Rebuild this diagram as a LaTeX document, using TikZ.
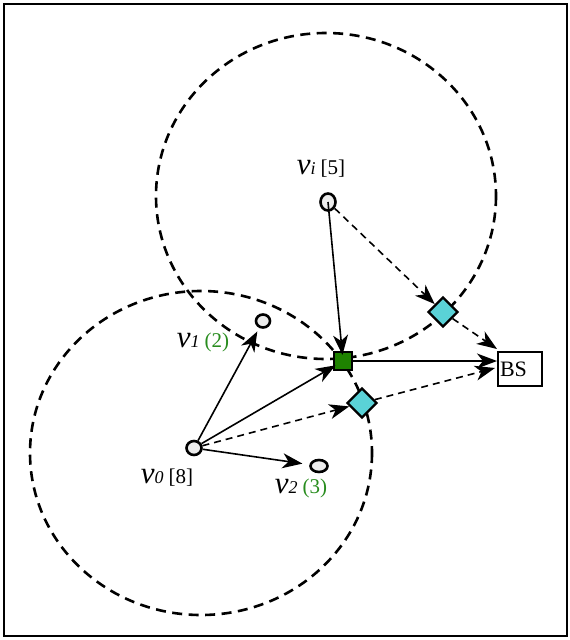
\documentclass[tikz,border=0pt]{standalone}
\usepackage{fontspec}
\setmainfont{Liberation Serif}
\usetikzlibrary{arrows.meta,shapes.geometric}
\definecolor{lblgreen}{RGB}{40,140,30}
\definecolor{sqgreen}{RGB}{30,130,0}
\definecolor{diacyan}{RGB}{90,210,215}
\definecolor{nodefill}{RGB}{236,236,236}
\newcommand{\vlab}[3]{{\fontsize{31}{31}\selectfont\itshape v}{\fontsize{18}{18}\selectfont\itshape #1}\hspace{5pt}{\fontsize{21}{21}\selectfont\color{#3}#2}}
\begin{document}
\begin{tikzpicture}[x=1pt,y=-1pt,
  sensor/.style={ellipse,draw,line width=2.6pt,fill=nodefill,inner sep=0pt},
  relay/.style={diamond,draw,line width=2.4pt,fill=diacyan,inner sep=0pt,minimum width=30pt,minimum height=30pt},
  head/.style={rectangle,draw,line width=2pt,fill=sqgreen,inner sep=0pt,minimum size=18pt},
  sink/.style={rectangle,draw,line width=2pt,fill=white,inner xsep=2pt,inner ysep=0pt,text width=40pt,align=left,minimum height=34pt,font=\fontsize{22}{22}\selectfont},
  rangecirc/.style={dash pattern=on 10pt off 6.5pt,line width=2.6pt},
  lbl/.style={anchor=base,inner sep=0pt},
  arr/.style={line width=1.6pt,-{Stealth[length=20pt,width=15pt,inset=6pt]}},
  darr/.style={arr,dash pattern=on 7pt off 5pt}
]
\useasboundingbox (0,0) rectangle (570,640);
\draw[line width=2.6pt] (4,4) rectangle (567,636);
% ranges
\draw[rangecirc] (326,196) ellipse [x radius=170, y radius=163];
\draw[rangecirc] (201,453) ellipse [x radius=171, y radius=162];
% nodes
\node[sensor,minimum width=15pt,minimum height=17pt] (vi) at (328,202) {};
\node[sensor,minimum width=14pt,minimum height=13pt] (v1) at (263,321) {};
\node[sensor,minimum width=15pt,minimum height=14pt] (v0) at (194,448) {};
\node[sensor,minimum width=17pt,minimum height=12pt] (v2) at (319,466) {};
\node[head] (sq) at (343,361) {};
\node[relay] (d1) at (443,312) {};
\node[relay] (d2) at (362,403) {};
\node[sink] (bs) at (520,369) {BS};
% labels
\node[lbl] (lvi) at (321,174) {\vlab{i}{[5]}{black}};
\node[lbl] (lv1) at (203,347) {\vlab{1}{(2)}{lblgreen}};
\node[lbl] (lv0) at (167,483) {\vlab{0}{[8]}{black}};
\node[lbl] (lv2) at (301,493) {\vlab{2}{(3)}{lblgreen}};
% connectors
\draw[arr,shorten >=4pt] (v0) -- (v1);
\draw[arr,shorten >=-3pt] (v0) -- (sq);
\draw[darr] (v0) -- (d2);
\draw[arr,shorten >=7pt] (v0) -- (v2);
\draw[arr,shorten >=-4pt] (vi.center) -- (sq);
\draw[darr] (vi) -- (d1);
\draw[arr] (sq.east) -- ([yshift=8pt]bs.west);
\draw[darr] (d1) -- ([yshift=2pt]bs.north west);
\draw[darr] (d2) -- ([xshift=-2pt,yshift=1pt]bs.west);
\end{tikzpicture}
\end{document}
